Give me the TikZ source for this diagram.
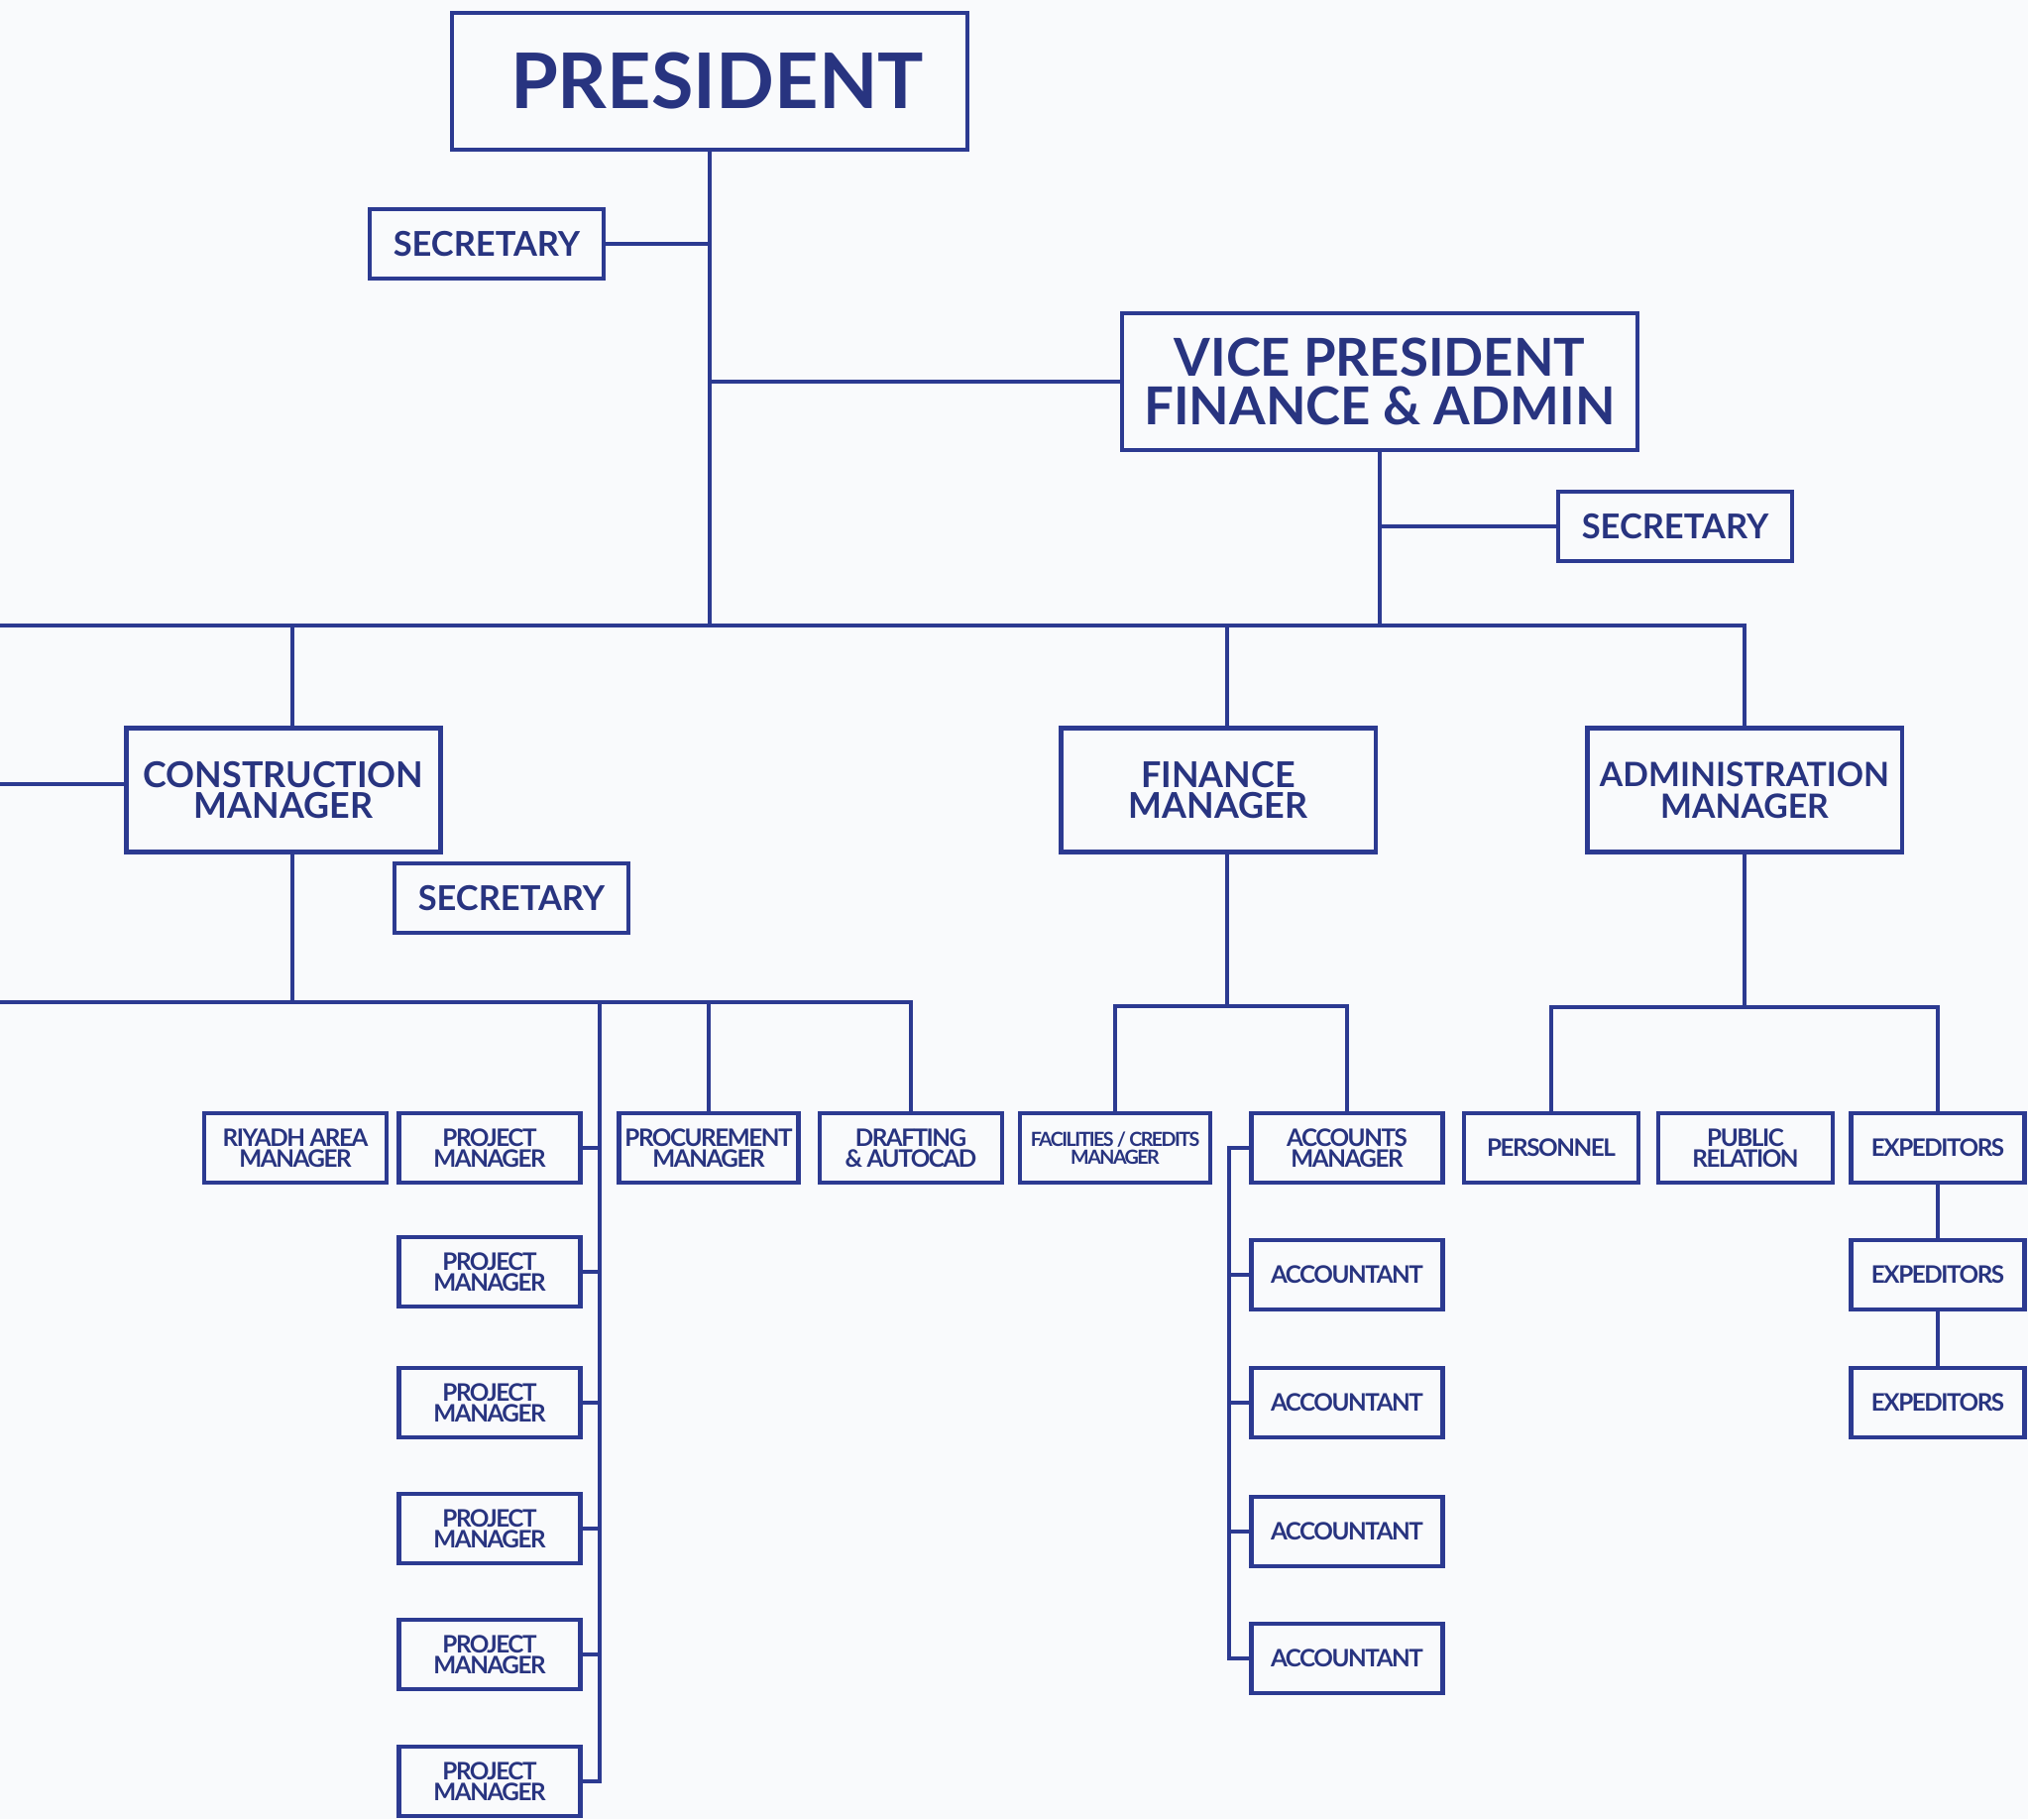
\documentclass[tikz,border=0pt]{standalone}
\usepackage{fontspec}
\setmainfont{Lato}
\definecolor{chartblue}{RGB}{44,58,145}
\definecolor{charttext}{RGB}{40,52,128}
\definecolor{paper}{RGB}{249,250,252}

\begin{document}
\begin{tikzpicture}[x=0.01cm, y=-0.01cm,
  link/.style={draw=chartblue, line width=1.1pt},
  post/.style={draw=chartblue, line width=1.2pt, text=charttext, align=center, inner sep=0pt},
  big/.style={post, minimum width=5.19cm, minimum height=1.38cm},
  head/.style={post, minimum width=3.17cm, minimum height=1.25cm, font=\fontsize{10.2}{9}\selectfont\bfseries},
  sec/.style={post, minimum width=2.36cm, minimum height=0.70cm, font=\fontsize{9.8}{9}\selectfont\bfseries},
  small/.style={post, minimum width=1.83cm, minimum height=0.70cm, font=\fontsize{6.9}{6}\selectfont\bfseries\addfontfeature{LetterSpace=-6}}]

\useasboundingbox (0,0) rectangle (2046,1835);
\fill[paper] (0,0) rectangle (2046,1835);

%top of the chart
\node[big, font=\fontsize{22}{22}\selectfont\bfseries] (pres) at (716,82) {\hspace*{0.15cm}PRESIDENT};
\node[sec] (sec1) at (491,246) {SECRETARY};
\node[big, font=\fontsize{15}{14}\selectfont\bfseries] (vp) at (1392,385) {VICE PRESIDENT\\FINANCE \& ADMIN};
\node[sec] (sec2) at (1690,531) {SECRETARY};

%managers
\node[head] (cm) at (286,797) {CONSTRUCTION\\MANAGER};
\node[sec] (sec3) at (516,906) {SECRETARY};
\node[head] (fm) at (1229,797) {FINANCE\\MANAGER};
\node[head, font=\fontsize{9.6}{9}\selectfont\bfseries] (am) at (1760,797) {ADMINISTRATION\\MANAGER};

%row of departments
\node[small, minimum width=1.84cm] (riyadh) at (298,1158) {RIYADH AREA\\MANAGER};
\node[small] (pm1) at (494,1158) {PROJECT\\MANAGER};
\node[small, minimum width=1.81cm] (proc) at (715,1158) {PROCUREMENT\\MANAGER};
\node[small, minimum width=1.84cm] (draft) at (919,1158) {DRAFTING\\\& AUTOCAD};
\node[small, minimum width=1.92cm, font=\fontsize{5.6}{5}\selectfont\bfseries\addfontfeature{LetterSpace=-8}] (fac) at (1125,1158) {FACILITIES\,/\,CREDITS\\MANAGER};
\node[small, minimum width=1.93cm] (acm) at (1359,1158) {ACCOUNTS\\MANAGER};
\node[small, minimum width=1.76cm] (pers) at (1565,1158) {PERSONNEL};
\node[small, minimum width=1.76cm] (pr) at (1761,1158) {PUBLIC\\RELATION};
\node[small, minimum width=1.75cm] (exp1) at (1955,1158) {EXPEDITORS};

%columns
\foreach \i/\y in {2/1283,3/1415,4/1542,5/1669,6/1797}
  \node[small] (pm\i) at (494,\y) {PROJECT\\MANAGER};
\foreach \i/\y in {1/1286,2/1415,3/1545,4/1673}
  \node[small, minimum width=1.93cm] (acc\i) at (1359,\y) {ACCOUNTANT};
\node[small, minimum width=1.75cm] (exp2) at (1955,1286) {EXPEDITORS};
\node[small, minimum width=1.75cm] (exp3) at (1955,1415) {EXPEDITORS};

%connectors
\coordinate (bus) at (0,631);
\coordinate (cbus) at (0,1011);
\coordinate (fbus) at (1238,1015);
\coordinate (abus) at (1760,1016);
\coordinate (pmspine) at (605,1011);
\coordinate (aspine) at ([xshift=-0.2cm]acm.west);
\coordinate (cmtop) at ([xshift=0.09cm]cm.north);
\coordinate (cmbot) at ([xshift=0.09cm]cm.south);
\coordinate (fmtop) at ([xshift=0.09cm]fm.north);
\coordinate (fmbot) at ([xshift=0.09cm]fm.south);

\draw[link] (pres.south) -- (pres.south |- bus);
\draw[link] (sec1.east) -- (sec1.east -| pres.south);
\draw[link] (vp.west) -- (vp.west -| pres.south);
\draw[link] (vp.south) -- (vp.south |- bus);
\draw[link] (sec2.west) -- (sec2.west -| vp.south);
\draw[link] (bus) -| (am.north);
\draw[link] (cmtop) -- (cmtop |- bus);
\draw[link] (fmtop) -- (fmtop |- bus);
\draw[link] ([yshift=0.06cm]cm.west) -- ([yshift=0.06cm]cm.west -| bus);

\draw[link] (cmbot) -- (cmbot |- cbus);
\draw[link] (cbus) -| (draft.north);
\draw[link] (proc.north) -- (proc.north |- cbus);
\draw[link] (pmspine) |- (pm6.east);
\foreach \i in {1,...,5}
  \draw[link] (pm\i.east) -- (pm\i.east -| pmspine);

\draw[link] (fmbot) -- (fbus);
\draw[link] (fac.north) |- (fbus) -| (acm.north);
\draw[link] (acm.west) -- (aspine) |- (acc4.west);
\foreach \i in {1,2,3}
  \draw[link] (acc\i.west) -- (acc\i.west -| aspine);

\draw[link] (am.south) -- (abus);
\draw[link] (pers.north) |- (abus) -| (exp1.north);
\draw[link] (exp1) -- (exp2) -- (exp3);

\end{tikzpicture}
\end{document}
